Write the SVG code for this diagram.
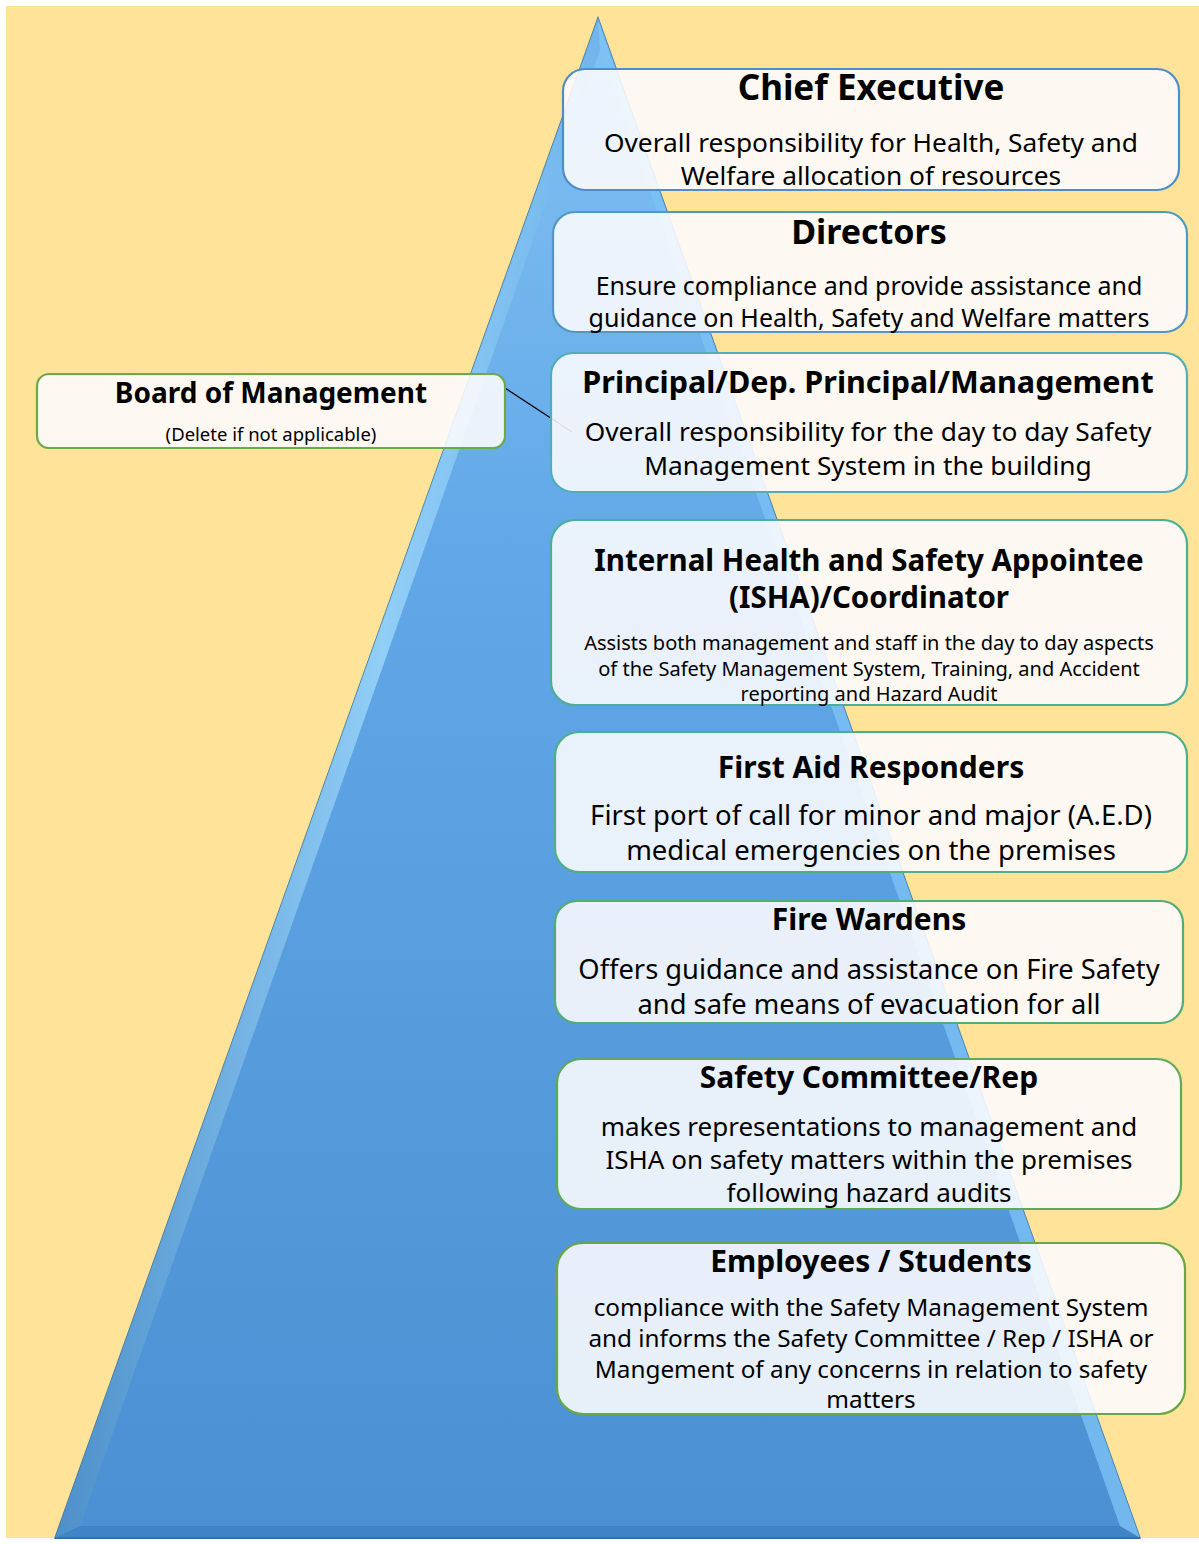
<svg xmlns="http://www.w3.org/2000/svg" width="1199" height="1544" viewBox="0 0 1199 1544">
<defs>
<linearGradient id="pyr" x1="0" y1="0" x2="0" y2="1">
<stop offset="0" stop-color="#82C2F2"/>
<stop offset="0.35" stop-color="#62A8E8"/>
<stop offset="1" stop-color="#4A90D2"/>
</linearGradient>
<linearGradient id="lbev" x1="0" y1="0" x2="1" y2="0">
<stop offset="0" stop-color="#4E8FC8"/>
<stop offset="0.6" stop-color="#9AD6FA"/>
<stop offset="1" stop-color="#6FB3EA"/>
</linearGradient>
<style>
.box{fill:#FDFCFE;fill-opacity:0.88;stroke-width:2.2}
.t{font-family:"Noto Sans","Open Sans","DejaVu Sans",sans-serif;fill:#000;text-anchor:middle}
.h{font-weight:bold}
</style>
</defs>
<rect x="0" y="0" width="1199" height="1544" fill="#FFFFFF"/>
<rect x="6" y="6" width="1193" height="1532" fill="#FFE399"/>
<g id="pyramid">
<polygon points="598,18 55,1538 1140,1538" fill="url(#pyr)" stroke="#3F79AD" stroke-width="1.5"/>
<polygon points="598,18 600,50 80,1526 55,1538" fill="url(#lbev)" opacity="0.85"/>
<polygon points="598,18 600,50 1120,1526 1140,1538" fill="#7CC2F5" opacity="0.8"/>
<polygon points="80,1526 1120,1526 1140,1538 55,1538" fill="#3D7FC0" opacity="0.7"/>
<line x1="55" y1="1538" x2="1140" y2="1538" stroke="#3A6F9E" stroke-width="2"/>
</g>
<g id="connectors">
<line x1="505" y1="388" x2="572" y2="432" stroke="#000" stroke-width="1.2"/>
</g>
<g id="board">
<rect class="box" x="37" y="374" width="468" height="74" rx="12" stroke="#6AAA48"/>
<text class="t h" x="271" y="403" font-size="28">Board of Management</text>
<text class="t" x="271" y="441" font-size="18.5">(Delete if not applicable)</text>
</g>
<g id="chief">
<rect class="box" x="563" y="69" width="616" height="121" rx="22" stroke="#4F8CC9"/>
<text class="t h" x="871" y="100" font-size="35">Chief Executive</text>
<text class="t" x="871" y="152" font-size="26.3">Overall responsibility for Health, Safety and</text>
<text class="t" x="871" y="185" font-size="26.3">Welfare allocation of resources</text>
</g>
<g id="directors">
<rect class="box" x="553" y="212" width="634" height="120" rx="22" stroke="#4F98C6"/>
<text class="t h" x="869" y="244" font-size="34">Directors</text>
<text class="t" x="869" y="295" font-size="25">Ensure compliance and provide assistance and</text>
<text class="t" x="869" y="327" font-size="25">guidance on Health, Safety and Welfare matters</text>
</g>
<g id="principal">
<rect class="box" x="551" y="353" width="636" height="139" rx="22" stroke="#4FAEB8"/>
<text class="t h" x="868" y="393" font-size="30.5">Principal/Dep. Principal/Management</text>
<text class="t" x="868" y="441" font-size="26.3">Overall responsibility for the day to day Safety</text>
<text class="t" x="868" y="475" font-size="26.3">Management System in the building</text>
</g>
<g id="isha">
<rect class="box" x="551" y="520" width="636" height="185" rx="24" stroke="#4DAE98"/>
<text class="t h" x="869" y="571" font-size="29.5">Internal Health and Safety Appointee</text>
<text class="t h" x="869" y="608" font-size="29.5">(ISHA)/Coordinator</text>
<text class="t" x="869" y="650" font-size="20">Assists both management and staff in the day to day aspects</text>
<text class="t" x="869" y="676" font-size="20">of the Safety Management System, Training, and Accident</text>
<text class="t" x="869" y="701" font-size="20">reporting and Hazard Audit</text>
</g>
<g id="firstaid">
<rect class="box" x="555" y="732" width="632" height="140" rx="24" stroke="#4DAE88"/>
<text class="t h" x="871" y="778" font-size="30">First Aid Responders</text>
<text class="t" x="871" y="825" font-size="27.5">First port of call for minor and major (A.E.D)</text>
<text class="t" x="871" y="860" font-size="27.5">medical emergencies on the premises</text>
</g>
<g id="firewardens">
<rect class="box" x="555" y="901" width="628" height="122" rx="22" stroke="#52AC74"/>
<text class="t h" x="869" y="930" font-size="30">Fire Wardens</text>
<text class="t" x="869" y="979" font-size="27.3">Offers guidance and assistance on Fire Safety</text>
<text class="t" x="869" y="1014" font-size="27.3">and safe means of evacuation for all</text>
</g>
<g id="committee">
<rect class="box" x="557" y="1059" width="624" height="150" rx="24" stroke="#5DAA5C"/>
<text class="t h" x="869" y="1088" font-size="30">Safety Committee/Rep</text>
<text class="t" x="869" y="1136" font-size="26">makes representations to management and</text>
<text class="t" x="869" y="1169" font-size="26">ISHA on safety matters within the premises</text>
<text class="t" x="869" y="1202" font-size="26">following hazard audits</text>
</g>
<g id="employees">
<rect class="box" x="557" y="1243" width="628" height="171" rx="26" stroke="#68A646"/>
<text class="t h" x="871" y="1272" font-size="30">Employees / Students</text>
<text class="t" x="871" y="1316" font-size="24.3">compliance with the Safety Management System</text>
<text class="t" x="871" y="1347" font-size="24.3">and informs the Safety Committee / Rep / ISHA or</text>
<text class="t" x="871" y="1378" font-size="24.3">Mangement of any concerns in relation to safety</text>
<text class="t" x="871" y="1408" font-size="24.3">matters</text>
</g>
</svg>
